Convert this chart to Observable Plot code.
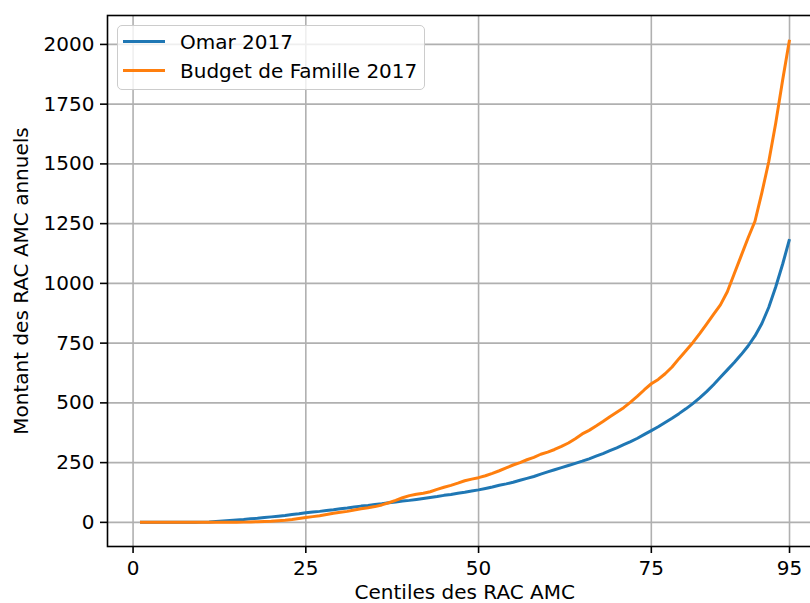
<!DOCTYPE html>
<html>
<head>
<meta charset="utf-8">
<script src="https://cdn.jsdelivr.net/npm/d3@7"></script>
<script src="https://cdn.jsdelivr.net/npm/@observablehq/plot@0.6"></script>
<style>
  body { margin: 0; background: white; }
  #wrap { position: relative; width: 810px; height: 603px; overflow: hidden; font-family: "DejaVu Sans", sans-serif; }
  #legend { position: absolute; left: 117px; top: 25px; width: 306px; height: 63px; border: 1.6px solid #cccccc; border-radius: 5px; background: rgba(255,255,255,0.8); }
  .row { position: absolute; left: 0; height: 30px; display: flex; align-items: center; font-size: 20px; color: #000; white-space: nowrap; }
  .swatch { width: 42px; height: 3px; margin-left: 5px; margin-right: 15px; }
</style>
</head>
<body>
<div id="wrap"></div>
<script>
const seriesNames = ["Omar 2017", "Budget de Famille 2017"];
const seriesColors = ["#1f77b4", "#ff7f0e"];
const xTicks = [0, 25, 50, 75, 95];
const yTicks = [0, 250, 500, 750, 1000, 1250, 1500, 1750, 2000];

const centiles = d3.range(1, 96);
const omar = [
  0,0,0,0,0,0,0,0,0,1,
  2,4,6,8,10,12,15,17,20,23,
  26,29,33,36,40,43,46,50,53,57,
  60,64,68,71,75,78,82,85,89,92,
  96,100,104,108,113,117,122,126,131,136,
  142,148,155,161,168,176,184,192,202,211,
  220,229,238,247,256,266,277,288,300,312,
  325,338,352,368,384,400,418,436,455,475,
  497,521,547,576,607,638,669,702,738,780,
  832,900,985,1080,1185
];
const budget = [
  0,0,0,0,0,0,0,0,0,0,
  0,0,0,0,0,1,2,3,4,5,
  7,9,12,16,20,24,28,33,38,42,
  46,52,57,61,66,73,82,92,103,112,
  118,122,128,138,147,155,164,174,181,187,
  195,205,216,228,240,250,262,272,285,294,
  305,318,332,350,370,385,403,422,442,461,
  480,503,528,555,580,598,622,650,685,718,
  752,790,830,870,910,965,1040,1115,1190,1260,
  1380,1510,1670,1850,2020
];

const rows = [];
centiles.forEach((c, i) => {
  rows.push({c, v: omar[i], s: seriesNames[0]});
});
centiles.forEach((c, i) => {
  rows.push({c, v: budget[i], s: seriesNames[1]});
});

const width = 810, height = 603;
const chart = Plot.plot({
  width, height,
  marginLeft: 107, marginRight: -11.5, marginTop: 15, marginBottom: 57,
  style: {fontFamily: "DejaVu Sans, sans-serif", fontSize: "20px", color: "black", background: "white"},
  x: {domain: [-3.7, 99.7]},
  y: {domain: [-101, 2121]},
  color: {domain: seriesNames, range: seriesColors},
  marks: [
    Plot.gridX(xTicks, {stroke: "#b0b0b0", strokeOpacity: 1, strokeWidth: 1.6}),
    Plot.gridY(yTicks, {stroke: "#b0b0b0", strokeOpacity: 1, strokeWidth: 1.6}),
    Plot.lineY(rows, {x: "c", y: "v", z: "s", stroke: "s", strokeWidth: 3, strokeLinejoin: "round", strokeLinecap: "butt"}),
    Plot.frame({stroke: "black", strokeWidth: 1.6}),
    Plot.axisX(xTicks, {tickSize: 7, tickPadding: 7, strokeWidth: 1.6, tickFormat: d => String(d),
      label: "Centiles des RAC AMC", labelAnchor: "center", labelOffset: 52, labelArrow: "none"}),
    Plot.axisY(yTicks, {tickSize: 7, tickPadding: 6, strokeWidth: 1.6, tickFormat: d => String(d),
      label: "Montant des RAC AMC annuels", labelAnchor: "center", labelOffset: 94, labelArrow: "none"})
  ]
});
const wrap = document.getElementById("wrap");
wrap.appendChild(chart);

const legend = document.createElement("div");
legend.id = "legend";
seriesNames.forEach((name, i) => {
  const row = document.createElement("div");
  row.className = "row";
  row.style.top = (0.5 + i * 29.3) + "px";
  const sw = document.createElement("div");
  sw.className = "swatch";
  sw.style.background = seriesColors[i];
  const t = document.createElement("span");
  t.textContent = name;
  row.appendChild(sw);
  row.appendChild(t);
  legend.appendChild(row);
});
wrap.appendChild(legend);
</script>
</body>
</html>
